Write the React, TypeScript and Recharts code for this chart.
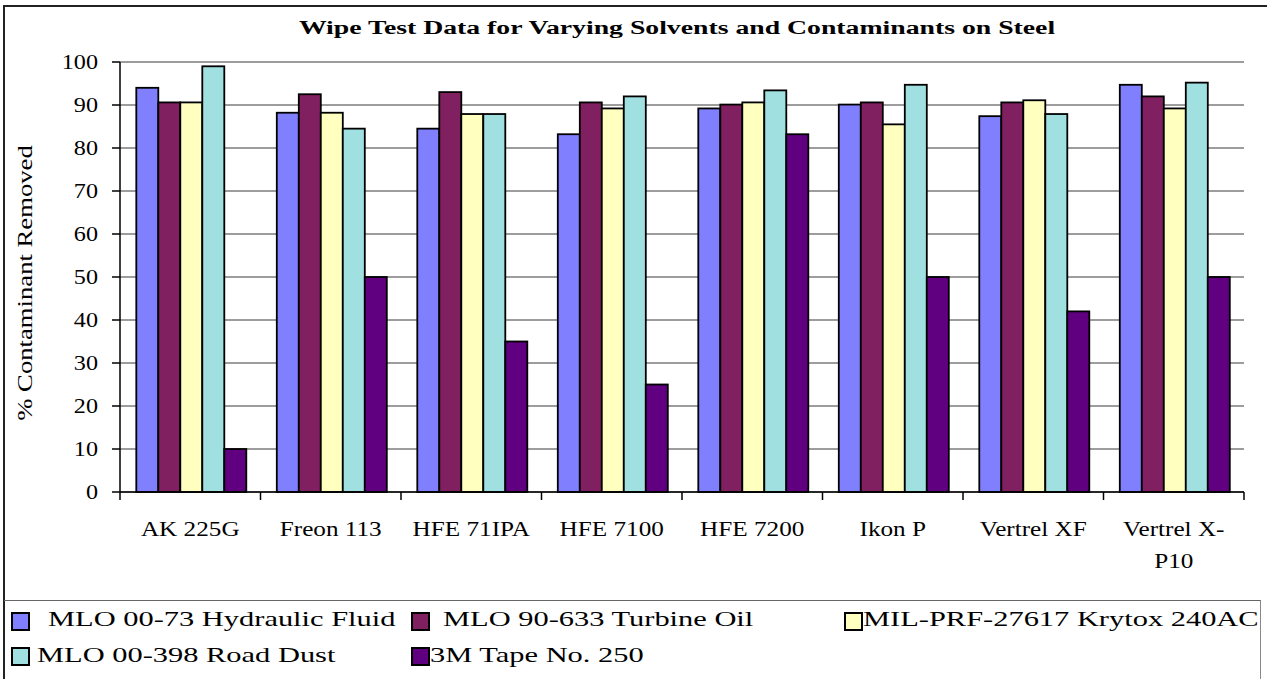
import React from 'react';
import { BarChart, Bar, XAxis, YAxis, CartesianGrid, Legend } from 'recharts';

const categories = ['AK 225G', 'Freon 113', 'HFE 71IPA', 'HFE 7100', 'HFE 7200', 'Ikon P', 'Vertrel XF', 'Vertrel X-P10'];
const hydraulicFluid = [94, 88.2, 84.5, 83.2, 89.2, 90.1, 87.4, 94.7];
const turbineOil = [90.6, 92.5, 93, 90.6, 90.1, 90.6, 90.6, 92];
const krytox = [90.6, 88.2, 87.9, 89.2, 90.6, 85.5, 91.1, 89.2];
const roadDust = [99, 84.5, 87.9, 92, 93.4, 94.7, 87.9, 95.2];
const tape = [10, 50, 35, 25, 83.2, 50, 42, 50];
const yTicks = [0, 10, 20, 30, 40, 50, 60, 70, 80, 90, 100];

const chartTitle = 'Wipe Test Data for Varying Solvents and Contaminants on Steel';
const yAxisTitle = '% Contaminant Removed';
const seriesNames = [
  'MLO 00-73 Hydraulic Fluid',
  'MLO 90-633 Turbine Oil',
  'MIL-PRF-27617 Krytox 240AC',
  'MLO 00-398 Road Dust',
  '3M Tape No. 250',
];
const seriesValues = [hydraulicFluid, turbineOil, krytox, roadDust, tape];
const seriesColors = ['#8080FF', '#802060', '#FFFFC0', '#A0E0E0', '#600080'];

const data = categories.map((name, i) => {
  const row: Record<string, any> = { name };
  seriesNames.forEach((s, k) => {
    row['s' + k] = seriesValues[k][i];
  });
  return row;
});

const W = 1267;
const H = 679;
const PLOT_LEFT = 120;
const PLOT_RIGHT = 1244;
const PLOT_TOP = 62;
const PLOT_BOTTOM = 492;
const BAND = (PLOT_RIGHT - PLOT_LEFT) / categories.length;
const FONT = "'Liberation Serif', serif";

const legendSlots = [
  { sx: 12, sy: 613, tx: 48, ty: 626 },
  { sx: 412, sy: 613, tx: 443, ty: 626 },
  { sx: 845, sy: 613, tx: 863, ty: 626 },
  { sx: 12, sy: 648, tx: 37, ty: 662 },
  { sx: 412, sy: 648, tx: 430, ty: 662 },
];

// text stretched horizontally (the reference font is wide)
const SText = (props: any) => {
  const { x, y, sx = 1, anchor = 'start', size = 21, weight = 'normal', rotate = 0, children } = props;
  return (
    <text
      transform={`translate(${x},${y}) rotate(${rotate}) scale(${sx},1)`}
      x={0}
      y={0}
      textAnchor={anchor}
      fontFamily={FONT}
      fontSize={size}
      fontWeight={weight}
      fill="#000"
    >
      {children}
    </text>
  );
};

function splitLabel(label: string): string[] {
  if (label.length > 11 && label.includes('-')) {
    const idx = label.lastIndexOf('-');
    return [label.slice(0, idx + 1), label.slice(idx + 1)];
  }
  return [label];
}

const XTick = (props: any) => {
  const { x, y, payload, index } = props;
  const lines = splitLabel(String(payload.value));
  return (
    <g>
      {index === 0 && (
        <line x1={x - BAND / 2} x2={x - BAND / 2} y1={y} y2={y + 8} stroke="#000" strokeWidth={1.5} />
      )}
      <line x1={x + BAND / 2} x2={x + BAND / 2} y1={y} y2={y + 8} stroke="#000" strokeWidth={1.5} />
      {lines.map((ln, i) => (
        <SText key={i} x={x} y={y + 44 + i * 32} anchor="middle" sx={1.2} size={21}>
          {ln}
        </SText>
      ))}
    </g>
  );
};

const YTick = (props: any) => {
  const { y, payload } = props;
  return (
    <SText x={98} y={y + 7} anchor="end" sx={1.15} size={21}>
      {payload.value}
    </SText>
  );
};

const BarShape = (props: any) => {
  const { x, y, width, height, fill } = props;
  if (!height || height <= 0) return null;
  return <rect x={x} y={y} width={width} height={height} fill={fill} stroke="#000" strokeWidth={1.8} />;
};

const renderLegend = (props: any) => {
  const payload = props.payload || [];
  return (
    <svg width={W} height={H} style={{ position: 'absolute', left: 0, top: 0 }}>
      <SText x={677} y={34} anchor="middle" sx={1.46} size={19} weight="bold">
        {chartTitle}
      </SText>
      <SText x={32} y={283} anchor="middle" sx={1.27} size={21} rotate={-90}>
        {yAxisTitle}
      </SText>
      {payload.map((p: any, i: number) => {
        const k = seriesNames.indexOf(String(p.value));
        const slot = legendSlots[k];
        if (!slot) return null;
        return (
          <g key={i}>
            <rect x={slot.sx} y={slot.sy} width={17} height={17} fill={seriesColors[k]} stroke="#000" strokeWidth={2} />
            <SText x={slot.tx} y={slot.ty} sx={1.45} size={21}>
              {p.value}
            </SText>
          </g>
        );
      })}
    </svg>
  );
};

export default function App() {
  return (
    <div style={{ position: 'absolute', left: 0, top: 0, width: W, height: H, background: '#fff', overflow: 'hidden' }}>
      <div
        style={{
          position: 'absolute',
          left: 3,
          top: 5,
          width: W,
          height: H,
          border: '2px solid #222',
          boxSizing: 'border-box',
        }}
      />
      <div
        style={{
          position: 'absolute',
          left: 4,
          top: 600,
          width: 1257,
          height: 100,
          borderTop: '1.5px solid #666',
          borderRight: '1.5px solid #888',
          boxSizing: 'border-box',
        }}
      />
      <div style={{ position: 'absolute', left: 0, top: 0 }}>
        <BarChart
          width={W}
          height={H}
          data={data}
          margin={{ top: PLOT_TOP, right: W - PLOT_RIGHT, left: 0, bottom: 0 }}
          barCategoryGap="11.6%"
          barGap={0}
        >
          <CartesianGrid vertical={false} stroke="#3a3a3a" strokeWidth={1} />
          <XAxis
            dataKey="name"
            height={H - PLOT_BOTTOM}
            tickSize={0}
            tickMargin={0}
            tick={<XTick />}
            interval={0}
            axisLine={{ stroke: '#000', strokeWidth: 1.5 }}
          />
          <XAxis
            xAxisId="top"
            dataKey="name"
            orientation="top"
            height={0}
            tick={false}
            tickLine={false}
            axisLine={{ stroke: '#8a8a8a', strokeWidth: 2 }}
          />
          <YAxis
            width={PLOT_LEFT}
            domain={[0, 100]}
            ticks={yTicks}
            interval={0}
            tickSize={8}
            tickMargin={14}
            tick={<YTick />}
            tickLine={{ stroke: '#000', strokeWidth: 1.5 }}
            axisLine={{ stroke: '#000', strokeWidth: 1.5 }}
          />
          <YAxis
            yAxisId="right"
            orientation="right"
            width={0}
            domain={[0, 100]}
            tick={false}
            tickLine={false}
            axisLine={{ stroke: '#8a8a8a', strokeWidth: 2 }}
          />
          <Legend
            content={renderLegend}
            layout="horizontal"
            verticalAlign="middle"
            align="center"
            wrapperStyle={{ position: 'absolute', left: 0, top: 0, width: W, height: H, pointerEvents: 'none' }}
          />
          {seriesNames.map((s, k) => (
            <Bar
              key={s}
              dataKey={'s' + k}
              name={s}
              fill={seriesColors[k]}
              stroke="#000"
              strokeWidth={1.8}
              shape={<BarShape />}
              isAnimationActive={false}
            />
          ))}
        </BarChart>
      </div>
    </div>
  );
}
